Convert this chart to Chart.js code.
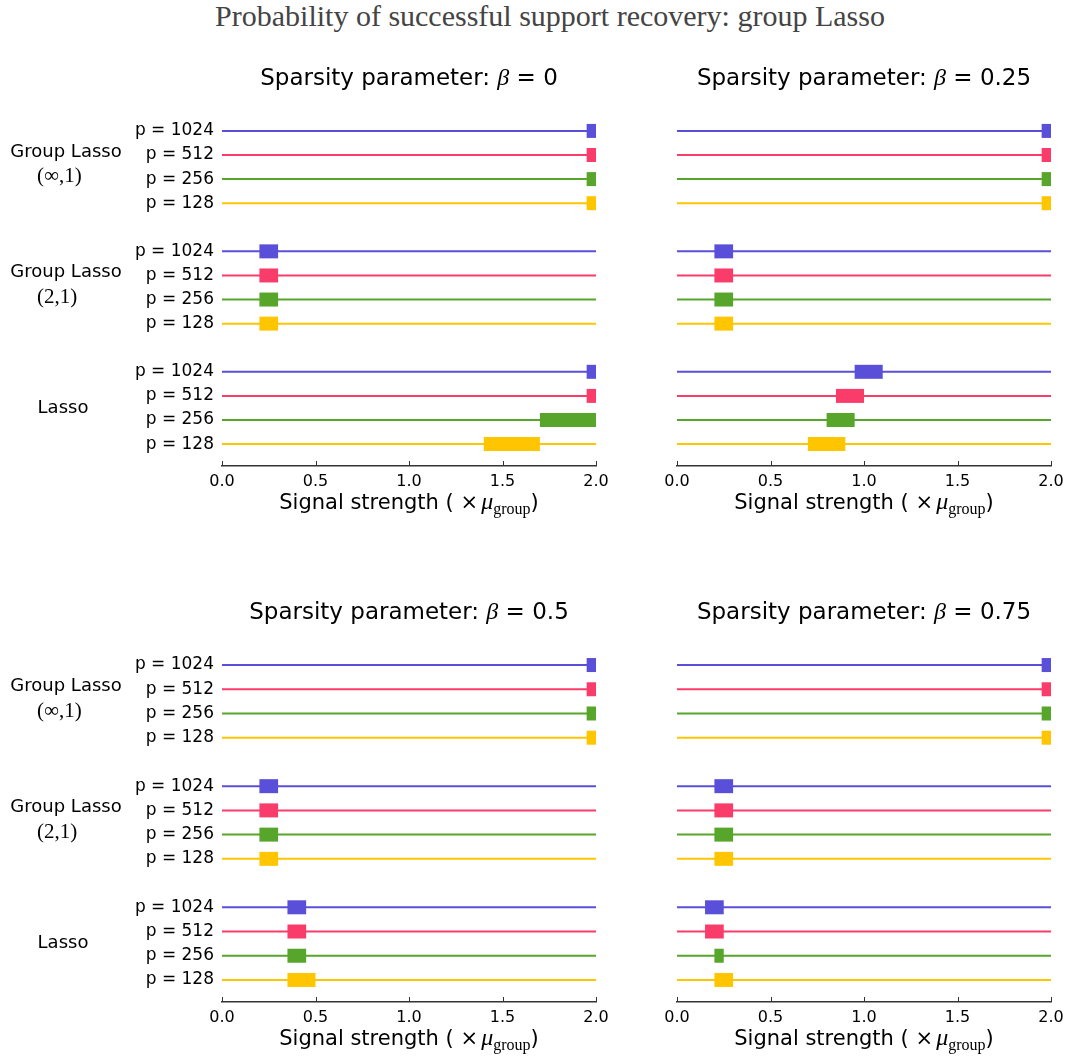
<!DOCTYPE html>
<html><head><meta charset="utf-8">
<script src="https://cdn.jsdelivr.net/npm/chart.js@4.4.0/dist/chart.umd.min.js"></script>
<style>
html,body{margin:0;padding:0;background:#fff;}
#wrap{position:relative;width:1070px;height:1057px;overflow:hidden;background:#fff;}
#title{position:absolute;left:15px;top:0;width:1070px;text-align:center;font-family:"Liberation Serif",serif;font-size:30px;color:#444;line-height:32px;white-space:nowrap;}
.pc{position:absolute;}
canvas{display:block;}
</style></head><body>
<div id="wrap">
<div id="title">Probability of successful support recovery: group Lasso</div>
<div class="pc" style="left:0;top:30px;"><canvas id="c0" width="620" height="500"></canvas></div>
<div class="pc" style="left:620px;top:30px;"><canvas id="c1" width="450" height="500"></canvas></div>
<div class="pc" style="left:0;top:560px;"><canvas id="c2" width="620" height="497"></canvas></div>
<div class="pc" style="left:620px;top:560px;"><canvas id="c3" width="450" height="497"></canvas></div>
</div>
<script>
// ---- data ----
const pLabels = ['p = 1024', 'p = 512', 'p = 256', 'p = 128'];
const methodNames = ['Group Lasso', 'Group Lasso', 'Lasso'];
const methodSubs = ['(\u221E,1)', '(2,1)', ''];
const betas = ['0', '0.25', '0.5', '0.75'];
const colors = ['#5A4FD8', '#F93C6A', '#57A62B', '#FFC600'];
const xTicks = [0, 0.5, 1.0, 1.5, 2.0];
const xMin = 0, xMax = 2;
// transition region (start, end) per row: [GL(inf,1) p1024..p128, GL(2,1) p1024..p128, Lasso p1024..p128]
const startB0   = [1.95, 1.95, 1.95, 1.95, 0.2, 0.2, 0.2, 0.2, 1.95, 1.95, 1.7, 1.4];
const endB0     = [2.0, 2.0, 2.0, 2.0, 0.3, 0.3, 0.3, 0.3, 2.0, 2.0, 2.0, 1.7];
const startB025 = [1.95, 1.95, 1.95, 1.95, 0.2, 0.2, 0.2, 0.2, 0.95, 0.85, 0.8, 0.7];
const endB025   = [2.0, 2.0, 2.0, 2.0, 0.3, 0.3, 0.3, 0.3, 1.1, 1.0, 0.95, 0.9];
const startB05  = [1.95, 1.95, 1.95, 1.95, 0.2, 0.2, 0.2, 0.2, 0.35, 0.35, 0.35, 0.35];
const endB05    = [2.0, 2.0, 2.0, 2.0, 0.3, 0.3, 0.3, 0.3, 0.45, 0.45, 0.45, 0.5];
const startB075 = [1.95, 1.95, 1.95, 1.95, 0.2, 0.2, 0.2, 0.2, 0.15, 0.15, 0.2, 0.2];
const endB075   = [2.0, 2.0, 2.0, 2.0, 0.3, 0.3, 0.3, 0.3, 0.25, 0.25, 0.25, 0.3];

const startAll = [startB0, startB025, startB05, startB075];
const endAll = [endB0, endB025, endB05, endB075];
// row index: group * 5 + p index (one empty row between groups)
const rowPos = [];
for (let g = 0; g < 3; g++) for (let j = 0; j < 4; j++) rowPos.push(g * 5 + j);

const SANS = '"DejaVu Sans", sans-serif';
const SERIF = '"Liberation Serif", serif';

function drawRuns(ctx, runs, cx, baseY) {
  let w = 0;
  runs.forEach(r => { ctx.font = r.font; r.w = ctx.measureText(r.text).width; w += r.w; });
  let x = cx - w / 2;
  ctx.textAlign = 'left';
  ctx.textBaseline = 'alphabetic';
  runs.forEach(r => {
    ctx.font = r.font; ctx.fillStyle = '#000';
    ctx.fillText(r.text, x, baseY + (r.dy || 0));
    x += r.w;
  });
}

const decoPlugin = {
  id: 'deco',
  afterDraw(chart, args, opts) {
    const ctx = chart.ctx, a = chart.chartArea;
    const xs = chart.scales.x, ys = chart.scales.y;
    ctx.save();
    // inward tick marks
    ctx.strokeStyle = '#333'; ctx.lineWidth = 1;
    xTicks.forEach(v => {
      const px = Math.round(xs.getPixelForValue(v)) + 0.5;
      ctx.beginPath(); ctx.moveTo(px, a.bottom); ctx.lineTo(px, a.bottom - 5); ctx.stroke();
    });
    const cx = (a.left + a.right) / 2;
    // panel title
    drawRuns(ctx, [
      {text: 'Sparsity parameter: ', font: '23px ' + SANS},
      {text: '\u03B2', font: 'italic 24px ' + SERIF},
      {text: ' = ' + opts.beta, font: '23px ' + SANS}
    ], cx, a.top - 24);
    // x axis title
    drawRuns(ctx, [
      {text: 'Signal strength ( ', font: '21px ' + SANS},
      {text: '\u00D7', font: '21px ' + SANS},
      {text: ' ', font: '10px ' + SANS},
      {text: '\u03BC', font: 'italic 24px ' + SERIF},
      {text: 'group', font: '16px ' + SERIF, dy: 5},
      {text: ')', font: '21px ' + SANS}
    ], cx, a.bottom + 43);
    // group labels
    if (opts.left) {
      ctx.fillStyle = '#000';
      ctx.textBaseline = 'middle';
      for (let g = 0; g < 3; g++) {
        const y0 = ys.getPixelForValue(rowPos[g * 4]);
        const y3 = ys.getPixelForValue(rowPos[g * 4 + 3]);
        if (methodSubs[g]) {
          ctx.font = '18px ' + SANS; ctx.textAlign = 'center';
          ctx.fillText(methodNames[g], 66, y0 + 21);
          ctx.font = '21px ' + SERIF; ctx.textAlign = 'left';
          ctx.fillText(methodSubs[g], 37, y0 + 46);
        } else {
          ctx.font = '18px ' + SANS; ctx.textAlign = 'center';
          ctx.fillText(methodNames[g], 63, (y0 + y3) / 2);
        }
      }
    }
    ctx.restore();
  }
};

function makePanel(id, k, left, top) {
  const starts = startAll[k], ends = endAll[k];
  const datasets = [];
  rowPos.forEach((y, i) => {
    datasets.push({
      data: [{x: xMin, y: y}, {x: xMax, y: y}],
      borderColor: colors[i % 4], borderWidth: 2,
      showLine: true, pointRadius: 0, borderCapStyle: 'butt'
    });
  });
  rowPos.forEach((y, i) => {
    datasets.push({
      data: [{x: starts[i], y: y}, {x: ends[i], y: y}],
      borderColor: colors[i % 4], borderWidth: 14,
      showLine: true, pointRadius: 0, borderCapStyle: 'butt'
    });
  });
  const canvas = document.getElementById(id);
  const H = canvas.height, W = canvas.width;
  const padTop = top ? 79 : 83;
  const areaH = top ? 357 : 359;
  const xH = H - padTop - areaH;
  new Chart(canvas, {
    type: 'scatter',
    data: {datasets},
    plugins: [decoPlugin],
    options: {
      responsive: false, animation: false, devicePixelRatio: 1,
      layout: {padding: {left: left ? 0 : 57, right: left ? 24 : 19, top: padTop, bottom: 0}},
      plugins: {legend: {display: false}, tooltip: {enabled: false}, title: {display: false},
        deco: {beta: betas[k], left: left}},
      scales: {
        x: {
          type: 'linear', min: xMin, max: xMax,
          grid: {display: false, drawTicks: false},
          border: {display: true, color: '#333', width: 1.5},
          ticks: {stepSize: 0.5, padding: 6, color: '#000', font: {family: SANS, size: 16},
            callback: v => Number(v).toFixed(1)},
          afterFit: s => { s.height = xH; }
        },
        y: {
          type: 'linear', reverse: true, min: -0.91, max: 13.91,
          display: left,
          grid: {display: false, drawTicks: false},
          border: {display: false},
          afterBuildTicks: s => { s.ticks = rowPos.map(v => ({value: v})); },
          ticks: {padding: 8, color: '#000', font: {family: SANS, size: 17},
            callback: (v, i) => pLabels[i % 4]},
          afterFit: s => { s.width = left ? 222 : 0; }
        }
      }
    }
  });
}
makePanel('c0', 0, true, true);
makePanel('c1', 1, false, true);
makePanel('c2', 2, true, false);
makePanel('c3', 3, false, false);
</script>
</body></html>
